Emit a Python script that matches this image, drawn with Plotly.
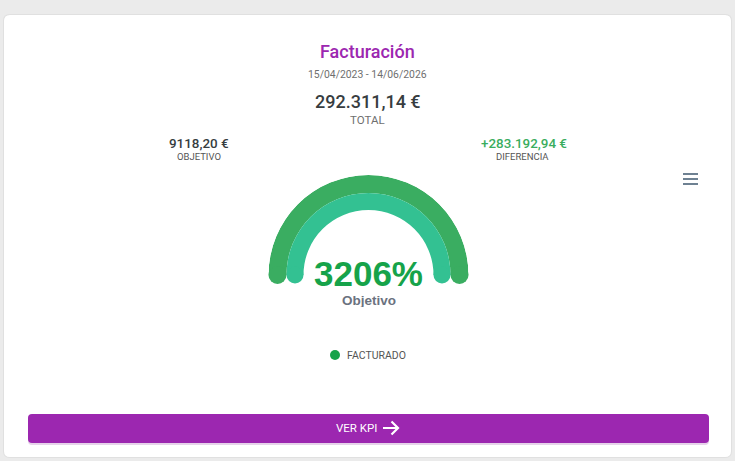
import plotly.graph_objects as go

# ---------------- data ----------------
title_text = "Facturación"
date_range = "15/04/2023 - 14/06/2026"
total_value = "292.311,14 €"
total_label = "TOTAL"
objective_value = "9118,20 €"
objective_label = "OBJETIVO"
difference_value = "+283.192,94 €"
difference_label = "DIFERENCIA"
percent_value = 3206          # % achieved over objective
center_label = "Objetivo"
legend_label = "FACTURADO"
button_label = "VER KPI"

ring_names = ["Objetivo", "Facturado"]
ring_percent = [100, 3206]          # percentage completed of each ring (capped at 100)
ring_base = [82, 65]                # inner radius of each ring (axis units)
ring_thickness = [18, 17]           # ring thickness (axis units)
ring_colors = ["#3aad61", "#33c192"]

W, H = 735, 461


def X(px):
    return px / W


def Y(py):
    return 1 - py / H


def rounded_rect(x0, y0, x1, y1, r):
    # pixel coords -> paper path
    pts = [
        f"M{X(x0 + r)},{Y(y0)}",
        f"L{X(x1 - r)},{Y(y0)}",
        f"Q{X(x1)},{Y(y0)} {X(x1)},{Y(y0 + r)}",
        f"L{X(x1)},{Y(y1 - r)}",
        f"Q{X(x1)},{Y(y1)} {X(x1 - r)},{Y(y1)}",
        f"L{X(x0 + r)},{Y(y1)}",
        f"Q{X(x0)},{Y(y1)} {X(x0)},{Y(y1 - r)}",
        f"L{X(x0)},{Y(y0 + r)}",
        f"Q{X(x0)},{Y(y0)} {X(x0 + r)},{Y(y0)}",
        "Z",
    ]
    return " ".join(pts)


fig = go.Figure()

# ---------------- gauge rings ----------------
for name, pct, base, th, col in zip(ring_names, ring_percent, ring_base, ring_thickness, ring_colors):
    p = min(pct, 100)
    span = 180 * p / 100
    fig.add_trace(go.Barpolar(
        r=[th], base=[base], theta=[180 - span / 2], width=[span],
        marker=dict(color=col, line=dict(width=0)),
        name=name, showlegend=False, hoverinfo="skip",
    ))
    # rounded caps
    fig.add_trace(go.Scatterpolar(
        r=[base + th / 2, base + th / 2], theta=[180, 180 - span],
        mode="markers", marker=dict(color=col, size=th, line=dict(width=0)),
        cliponaxis=False, showlegend=False, hoverinfo="skip",
    ))

fig.update_layout(
    polar=dict(
        domain=dict(x=[X(268.5), X(468.5)], y=[Y(275), Y(175)]),
        sector=[0, 180],
        hole=0,
        bgcolor="rgba(0,0,0,0)",
        radialaxis=dict(range=[0, 100], visible=False, showgrid=False),
        angularaxis=dict(visible=False, showgrid=False, rotation=0, direction="counterclockwise"),
    ),
    barmode="overlay",
)

# ---------------- shapes ----------------
shapes = []
# card shadow + card
shapes.append(dict(type="path", path=rounded_rect(3, 14, 732, 458, 7), fillcolor="#e0e0e0",
                   line=dict(width=0), layer="below", xref="paper", yref="paper"))
shapes.append(dict(type="path", path=rounded_rect(4, 15, 731, 457, 6), fillcolor="#ffffff",
                   line=dict(width=0), layer="below", xref="paper", yref="paper"))
# button shadow + button
shapes.append(dict(type="path", path=rounded_rect(28, 415, 709, 445, 4), fillcolor="#e6d3ea",
                   line=dict(width=0), layer="below", xref="paper", yref="paper"))
shapes.append(dict(type="path", path=rounded_rect(28, 414, 709, 443, 4), fillcolor="#9c27b0",
                   line=dict(width=0), layer="below", xref="paper", yref="paper"))
# arrow in button
shapes.append(dict(type="path",
                   path=f"M{X(383)},{Y(428)} L{X(398)},{Y(428)} M{X(391.5)},{Y(421.5)} L{X(398)},{Y(428)} L{X(391.5)},{Y(434.5)}",
                   line=dict(color="#ffffff", width=2.2), xref="paper", yref="paper"))
# hamburger menu
for yy in [174, 179, 184]:
    shapes.append(dict(type="line", x0=X(683), x1=X(698), y0=Y(yy), y1=Y(yy),
                       line=dict(color="#6e8192", width=2), xref="paper", yref="paper"))
# legend dot
shapes.append(dict(type="circle", x0=X(330), x1=X(340), y0=Y(350), y1=Y(360),
                   fillcolor="#16a34a", line=dict(width=0), xref="paper", yref="paper"))
fig.update_layout(shapes=shapes)

# ---------------- texts ----------------
R = "Roboto"
ann = []


def txt(text, x, y, size, color, family=R, weight=400, xanchor="center", height=None):
    a = dict(text=text, x=X(x), y=Y(y), xref="paper", yref="paper", showarrow=False,
             xanchor=xanchor, yanchor="middle",
             font=dict(family=family, size=size, color=color, weight=weight))
    if height:
        a["height"] = height
    ann.append(a)


txt(title_text, 367.5, 51, 18, "#9c27b0", weight=500)
txt(date_range, 367.5, 74, 10.4, "#6f6f6f")
txt(total_value, 367.5, 101, 18, "#373d3f", weight=500)
txt(total_label, 367.5, 120, 11.5, "#6f6f6f")
txt(objective_value, 198.5, 143, 13.4, "#373d3f", weight=500)
txt(objective_label, 198.5, 156, 9.5, "#555555")
txt(difference_value, 523.5, 143, 13.4, "#3aad5e", weight=500)
txt(difference_label, 522.5, 156, 9.5, "#555555")
txt(f"{percent_value}%", 368, 273, 35, "#16a34a", family="Liberation Sans", weight=700, height=32)
txt(center_label, 368.5, 299.5, 13.5, "#6b7280", family="Liberation Sans", weight=700, height=14)
txt(legend_label, 345, 355, 10.5, "#555555", xanchor="left")
txt(button_label, 356.5, 428, 11.5, "#ffffff")
fig.update_layout(annotations=ann)

fig.update_layout(
    width=W, height=H,
    margin=dict(l=0, r=0, t=0, b=0),
    paper_bgcolor="#ebebeb",
    plot_bgcolor="rgba(0,0,0,0)",
    showlegend=False,
)

fig.write_html("out.html", config={"displayModeBar": False},
               post_script="document.body.style.margin='0px';document.body.style.padding='0px';")
